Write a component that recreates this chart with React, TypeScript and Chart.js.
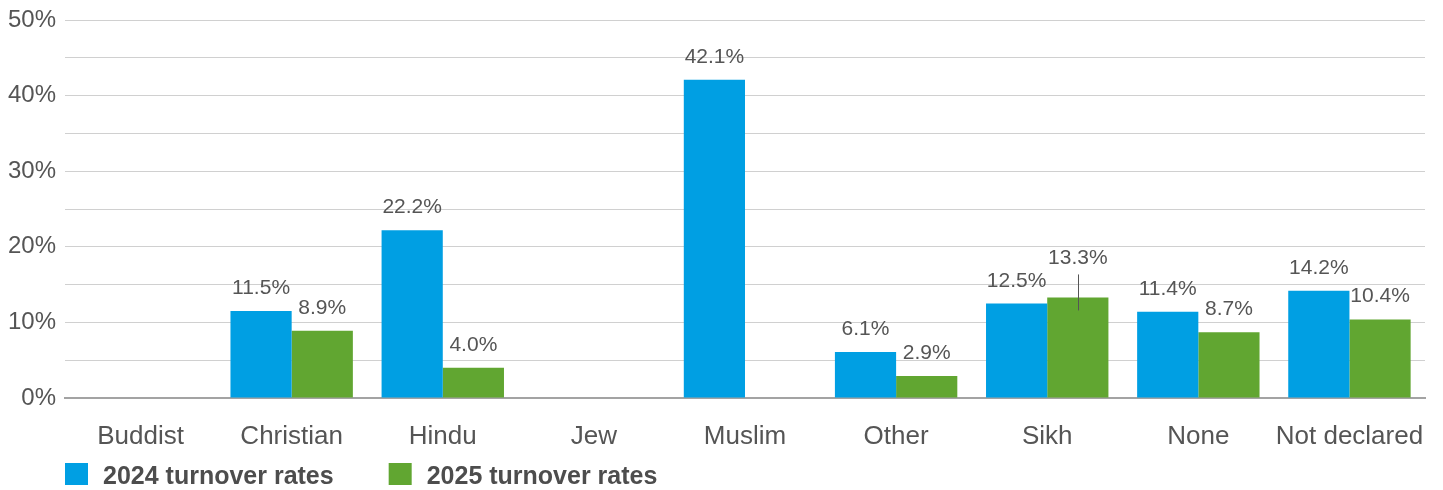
import React, { useEffect, useRef } from "react";
import { Chart, registerables } from "chart.js";

Chart.register(...registerables);

const categories = ["Buddist", "Christian", "Hindu", "Jew", "Muslim", "Other", "Sikh", "None", "Not declared"];
const rates2024: (number | null)[] = [null, 11.5, 22.2, null, 42.1, 6.1, 12.5, 11.4, 14.2];
const rates2025: (number | null)[] = [null, 8.9, 4.0, null, null, 2.9, 13.3, 8.7, 10.4];
const seriesNames = ["2024 turnover rates", "2025 turnover rates"];
const yTicks = [0, 10, 20, 30, 40, 50];

const BLUE = "#009fe3";
const GREEN = "#61a631";
const TEXT = "#555555";
const FONT = "'Liberation Sans', Arial, Helvetica, sans-serif";

const dataLabelPlugin = {
  id: "dataLabels",
  afterDatasetsDraw(chart: any) {
    const ctx = chart.ctx;
    ctx.save();
    ctx.font = `21px ${FONT}`;
    ctx.fillStyle = TEXT;
    ctx.textAlign = "center";
    ctx.textBaseline = "alphabetic";
    chart.data.datasets.forEach((ds: any, di: number) => {
      const meta = chart.getDatasetMeta(di);
      meta.data.forEach((el: any, i: number) => {
        const v = ds.data[i];
        if (v === null || v === undefined) return;
        // Sikh 2025 label is lifted with a leader line to avoid overlap
        const lifted = di === 1 && categories[i] === "Sikh";
        const base = el.y - 17 - (lifted ? 16 : 0);
        ctx.fillText(v.toFixed(1) + "%", el.x, base);
        if (lifted) {
          ctx.strokeStyle = TEXT;
          ctx.lineWidth = 1;
          ctx.beginPath();
          ctx.moveTo(Math.round(el.x) + 0.5, base + 10);
          ctx.lineTo(Math.round(el.x) + 0.5, el.y + 13);
          ctx.stroke();
        }
      });
    });
    ctx.restore();
  },
};

const legendPlugin = {
  id: "customLegend",
  afterDraw(chart: any) {
    const ctx = chart.ctx;
    const area = chart.chartArea;
    ctx.save();
    ctx.font = `bold 25px ${FONT}`;
    ctx.textBaseline = "alphabetic";
    ctx.textAlign = "left";
    let x = area.left;
    const boxTop = 463;
    chart.data.datasets.forEach((ds: any) => {
      ctx.fillStyle = ds.backgroundColor;
      ctx.fillRect(x, boxTop, 23, 22);
      ctx.fillStyle = "#4d4d4d";
      const tx = x + 38;
      ctx.fillText(ds.label, tx, 484);
      x = tx + ctx.measureText(ds.label).width + 55;
    });
    ctx.restore();
  },
};

export default function App() {
  const ref = useRef<HTMLCanvasElement | null>(null);
  useEffect(() => {
    document.body.style.margin = "0";
    const canvas = ref.current!;
    Chart.defaults.font.family = FONT;
    Chart.defaults.color = TEXT;
    const chart = new Chart(canvas, {
      type: "bar",
      data: {
        labels: categories,
        datasets: [
          { label: seriesNames[0], data: rates2024, backgroundColor: BLUE, categoryPercentage: 0.81, barPercentage: 1 },
          { label: seriesNames[1], data: rates2025, backgroundColor: GREEN, categoryPercentage: 0.81, barPercentage: 1 },
        ] as any,
      },
      options: {
        responsive: false,
        animation: false,
        devicePixelRatio: 1,
        layout: { padding: { top: 20, right: 18, left: 0, bottom: 0 } },
        plugins: { legend: { display: false }, tooltip: { enabled: false } },
        scales: {
          x: {
            grid: { display: false, drawTicks: false },
            border: { display: true, color: "#a3a3a3", width: 2 },
            ticks: { font: { size: 26 }, color: TEXT, padding: 23, maxRotation: 0, autoSkip: false },
            afterFit: (s: any) => {
              s.height = 92;
              s.paddingLeft = 0;
              s.paddingRight = 0;
            },
          },
          y: {
            min: 0,
            max: 50,
            grid: {
              drawTicks: false,
              color: (c: any) => (c.tick && c.tick.value === 0 ? "rgba(0,0,0,0)" : "#d0d0d0"),
              lineWidth: 1,
            },
            border: { display: false },
            ticks: {
              stepSize: 5,
              padding: 9,
              font: { size: 24 },
              color: TEXT,
              callback: (v: any) => (yTicks.includes(Number(v)) ? `${v}%` : ""),
            },
            afterFit: (s: any) => {
              s.width = 65;
              s.paddingTop = 0;
              s.paddingBottom = 0;
            },
          },
        },
      },
      plugins: [dataLabelPlugin, legendPlugin],
    });
    return () => chart.destroy();
  }, []);
  return (
    <div style={{ width: 1443, height: 490 }}>
      <canvas ref={ref} width={1443} height={490} style={{ display: "block", width: 1443, height: 490 }} />
    </div>
  );
}
